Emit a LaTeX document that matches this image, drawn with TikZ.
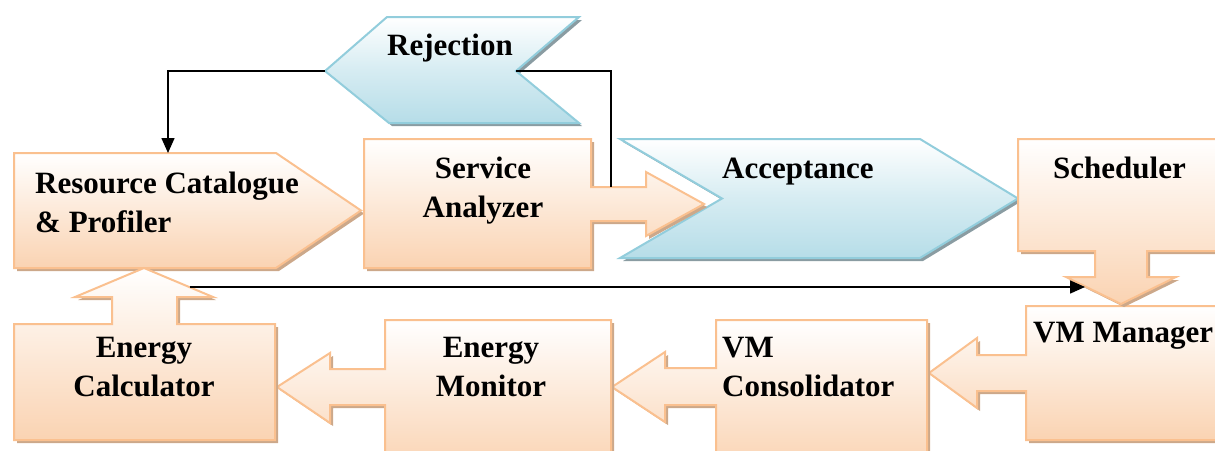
\documentclass[tikz,border=0pt]{standalone}
\usepackage{fontspec}
\setmainfont{Liberation Serif}
\usetikzlibrary{arrows.meta}

\definecolor{peachEdge}{RGB}{250,192,143}
\definecolor{peachFill}{RGB}{250,211,178}
\definecolor{peachDrop}{RGB}{204,168,138}
\definecolor{aquaEdge}{RGB}{146,205,220}
\definecolor{aquaMid}{RGB}{214,236,242}
\definecolor{aquaFill}{RGB}{182,221,232}
\definecolor{aquaDrop}{RGB}{138,156,162}

\newcommand\blocklabelfont{\fontsize{31}{39}\selectfont\bfseries}

% outlines of the block shapes (y grows downwards)
\def\shapeRej{(387,17) -- (579,17) -- (516,71) -- (579,123) -- (389,123) -- (325,71) -- cycle}
\def\shapeAcc{(620,139) -- (920,139) -- (1018,198.5) -- (920,258) -- (620,258) -- (722,198.5) -- cycle}
\def\shapeRes{(14,153) -- (276,153) -- (361,210.5) -- (276,268) -- (14,268) -- cycle}
\def\shapeSA{(364,139) -- (591,139) -- (591,187) -- (646,187) -- (646,172) -- (704,204) -- (646,236) -- (646,221) -- (591,221) -- (591,268) -- (364,268) -- cycle}
\def\shapeSch{(1018,139) -- (1232,139) -- (1232,251) -- (1147,251) -- (1147,277) -- (1176,277) -- (1121,304) -- (1066,277) -- (1095,277) -- (1095,251) -- (1018,251) -- cycle}
\def\shapeVMM{(1026,306) -- (1232,306) -- (1232,440) -- (1026,440) -- (1026,391) -- (977,391) -- (977,408) -- (929,373) -- (977,338) -- (977,355) -- (1026,355) -- cycle}
\def\shapeVMC{(716,320) -- (927,320) -- (927,470) -- (716,470) -- (716,405) -- (665,405) -- (665,422) -- (612,387) -- (665,352) -- (665,368) -- (716,368) -- cycle}
\def\shapeEM{(385,320) -- (611,320) -- (611,470) -- (385,470) -- (385,405) -- (330,405) -- (330,423) -- (277,387) -- (330,353) -- (330,369) -- (385,369) -- cycle}
\def\shapeEC{(14,324) -- (112,324) -- (112,297) -- (75,297) -- (144,268) -- (213,297) -- (177,297) -- (177,324) -- (275,324) -- (275,440) -- (14,440) -- cycle}

\begin{document}
\begin{tikzpicture}[x=1pt,y=-1pt,
  peach/.style={draw=peachEdge, line width=2pt, top color=white, bottom color=peachFill},
  peachshadow/.style={fill=peachDrop, shift={(3,3)}},
  aqua/.style={draw=aquaEdge, line width=2pt, top color=white, bottom color=aquaFill, middle color=aquaMid},
  aquashadow/.style={fill=aquaDrop, shift={(3,3)}},
  lbl/.style={inner sep=0pt, font=\blocklabelfont, text=black},
  link/.style={draw=black, line width=1.5pt},
  linkarrow/.style={link, -{Triangle[length=15pt,width=13pt]}}]

\useasboundingbox (0,0) rectangle (1215,450);
\clip (0,0) rectangle (1215,450);

% blue chevrons
\fill[aquashadow] \shapeRej;
\path[aqua] \shapeRej;
\fill[aquashadow] \shapeAcc;
\path[aqua] \shapeAcc;

% orange blocks
\fill[peachshadow] \shapeRes;
\path[peach] \shapeRes;
\fill[peachshadow] \shapeSA;
\path[peach] \shapeSA;
\fill[peachshadow] \shapeVMM;
\path[peach] \shapeVMM;
\fill[peachshadow] \shapeSch;
\path[peach] \shapeSch;
\fill[peachshadow] \shapeVMC;
\path[peach] \shapeVMC;
\fill[peachshadow] \shapeEM;
\path[peach] \shapeEM;
\fill[peachshadow] \shapeEC;
\path[peach] \shapeEC;

% labels
\node[lbl, anchor=base] (rej) at (450,55) {Rejection};
\node[lbl, anchor=base west] (acc) at (722,178) {Acceptance};
\node[lbl, anchor=base west] (res) at (35,193) {\begin{tabular}[t]{@{}l@{}}Resource Catalogue\\ \& Profiler\end{tabular}};
\node[lbl, anchor=base] (sa) at (483,178) {\begin{tabular}[t]{@{}c@{}}Service\\ Analyzer\end{tabular}};
\node[lbl, anchor=base west] (sch) at (1053,178) {Scheduler};
\node[lbl, anchor=base west] (vmm) at (1033,342) {VM Manager};
\node[lbl, anchor=base west] (vmc) at (722,357) {\begin{tabular}[t]{@{}l@{}}VM\\ Consolidator\end{tabular}};
\node[lbl, anchor=base] (em) at (491,357) {\begin{tabular}[t]{@{}c@{}}Energy\\ Monitor\end{tabular}};
\node[lbl, anchor=base] (ec) at (144,357) {\begin{tabular}[t]{@{}c@{}}Energy\\ Calculator\end{tabular}};

% connector end points on the block outlines
\coordinate (rejTip) at (325,71);
\coordinate (rejNotch) at (516,71);
\coordinate (resTop) at (168,153);
\coordinate (saShaft) at (611,187);
\coordinate (ecHead) at (189.5,287);
\coordinate (schHead) at (1085,287);

% connectors
\draw[linkarrow] (rejTip) -| (resTop);
\draw[link] (rejNotch) -| (saShaft);
\draw[linkarrow] (ecHead) -- (schHead);

\end{tikzpicture}
\end{document}
